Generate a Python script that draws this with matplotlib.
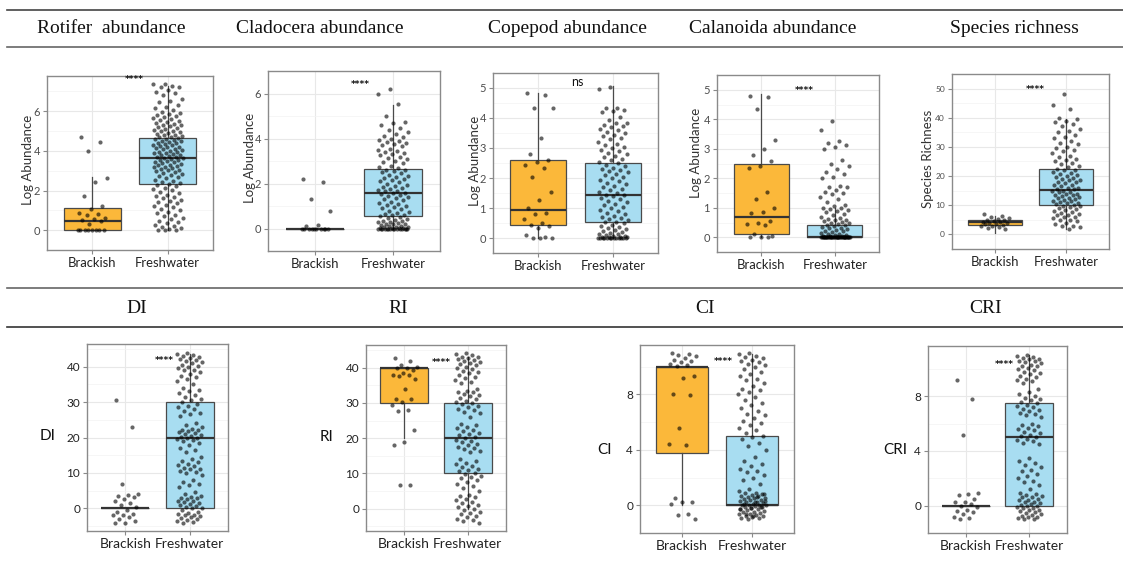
import numpy as np
import matplotlib.pyplot as plt
from matplotlib.lines import Line2D

W, H = 1123, 564

# column headers
top_titles = ["Rotifer  abundance", "Cladocera abundance", "Copepod abundance",
              "Calanoida abundance", "Species richness"]
bottom_titles = ["DI", "RI", "CI", "CRI"]
groups = ["Brackish", "Freshwater"]
y_labels = ["Log Abundance", "Log Abundance", "Log Abundance", "Log Abundance",
            "Species Richness", "DI", "RI", "CI", "CRI"]
sig_labels = ["****", "****", "ns", "****", "****", "****", "****", "****", "****"]

# box stats per panel: (q1, median, q3, whisker low, whisker high)
br_box = [(0, 0.48, 1.11, 0, 2.67), (0, 0, 0, 0, 0), (0.42, 0.93, 2.59, 0, 4.85),
          (0.11, 0.68, 2.48, 0, 4.87), (3.26, 4.1, 5.1, 0.5, 6.4), (0, 0, 0, 0, 0),
          (30, 40, 40, 20, 40), (3.77, 10, 10, 0, 10), (0, 0, 0, 0, 0)]
fw_box = [(2.33, 3.64, 4.66, 0, 7.28), (0.57, 1.6, 2.64, 0, 5.5), (0.53, 1.42, 2.49, 0, 5.07),
          (0, 0.02, 0.41, 0, 1.0), (10.2, 15.2, 22.4, 2, 39.6), (0, 20, 30, 0, 43.5),
          (10, 20, 30, 0, 43), (0, 0, 5, 0, 10.9), (0, 5, 7.5, 0, 11)]

rot_br = [4.72, 4.45, 4.02, 2.65, 2.45, 1.75, 1.22, 1.05, 0.85, 0.8, 0.78, 0.6, 0.55, 0.5,
          0.45, 0.3, 0, 0, 0, 0, 0, 0, 0, 0]
rot_fw = [7.4, 7.38, 7.3, 7.25, 7.2, 7.05, 6.95, 6.9, 6.83, 6.6, 6.5, 6.45, 6.3, 6.22, 6.15,
          6.05, 5.95, 5.9, 5.86, 5.8, 5.75, 5.7, 5.68, 5.62, 5.55, 5.5, 5.45, 5.42, 5.38, 5.33,
          5.3, 5.25, 5.2, 5.15, 5.1, 5.05, 5.0, 4.98, 4.93, 4.9, 4.85, 4.82, 4.78, 4.75, 4.72,
          4.7, 4.66, 4.62, 4.6, 4.55, 4.52, 4.48, 4.45, 4.4, 4.38, 4.33, 4.3, 4.28, 4.25, 4.2,
          4.18, 4.15, 4.1, 4.08, 4.05, 4.0, 3.97, 3.93, 3.9, 3.88, 3.85, 3.8, 3.77, 3.74, 3.7,
          3.68, 3.65, 3.62, 3.6, 3.55, 3.52, 3.48, 3.45, 3.42, 3.38, 3.35, 3.3, 3.28, 3.25,
          3.2, 3.18, 3.15, 3.1, 3.05, 3.02, 2.98, 2.95, 2.9, 2.85, 2.8, 2.75, 2.7, 2.62, 2.55,
          2.5, 2.45, 2.4, 2.35, 2.3, 2.22, 2.15, 2.1, 2.02, 1.95, 1.88, 1.8, 1.72, 1.65, 1.6,
          1.52, 1.45, 1.4, 1.35, 1.28, 1.2, 1.15, 1.05, 1.0, 0.92, 0.85, 0.78, 0.7, 0.62,
          0.55, 0.48, 0.4, 0.35, 0.28, 0.22, 0.15, 0.1, 0.05, 0, 0, 0]
cla_br = [2.22, 2.05, 1.32, 0.8, 0.15, 0.12, 0, 0, 0, 0, 0, 0, 0, 0, 0, 0]
cla_fw = [6.2, 6.0, 5.55, 5.0, 4.75, 4.7, 4.6, 4.45, 4.4, 4.3, 4.2, 4.1, 4.05, 4.0, 3.95,
          3.9, 3.85, 3.8, 3.75, 3.7, 3.65, 3.55, 3.5, 3.45, 3.4, 3.35, 3.3, 3.25, 3.2, 3.15,
          3.1, 3.0, 2.95, 2.9, 2.8, 2.75, 2.7, 2.62, 2.6, 2.55, 2.5, 2.45, 2.4, 2.35, 2.3,
          2.25, 2.2, 2.15, 2.1, 2.05, 2.0, 1.95, 1.9, 1.85, 1.8, 1.75, 1.7, 1.68, 1.65, 1.6,
          1.58, 1.55, 1.5, 1.45, 1.4, 1.35, 1.3, 1.25, 1.2, 1.15, 1.1, 1.05, 1.0, 0.95, 0.9,
          0.85, 0.8, 0.75, 0.7, 0.65, 0.6, 0.58, 0.55, 0.5, 0.45, 0.42, 0.4, 0.35, 0.32, 0.3,
          0.28, 0.25, 0.22, 0.2, 0.18, 0.15, 0.12, 0.1, 0.08, 0.06, 0.05, 0.04, 0.03, 0.02,
          0.01, 0, 0, 0, 0, 0, 0, 0, 0, 0, 0, 0, 0, 0, 0, 0]
cop_br = [4.83, 4.78, 4.35, 4.32, 3.32, 2.8, 2.6, 2.55, 2.45, 2.35, 2.05, 1.52, 1.28, 1.0,
          0.85, 0.8, 0.65, 0.5, 0.45, 0.4, 0.35, 0.1, 0.05, 0, 0, 0]
cop_fw = [5.05, 4.98, 4.35, 4.32, 4.28, 4.25, 4.2, 4.05, 3.95, 3.85, 3.82, 3.78, 3.75, 3.7,
          3.65, 3.6, 3.55, 3.5, 3.45, 3.4, 3.35, 3.3, 3.2, 3.15, 3.1, 3.05, 3.0, 2.95, 2.9,
          2.85, 2.8, 2.75, 2.7, 2.65, 2.6, 2.55, 2.5, 2.45, 2.4, 2.35, 2.3, 2.28, 2.25, 2.2,
          2.15, 2.1, 2.05, 2.0, 1.95, 1.9, 1.85, 1.8, 1.75, 1.7, 1.65, 1.6, 1.55, 1.5, 1.45,
          1.42, 1.4, 1.35, 1.3, 1.25, 1.2, 1.15, 1.1, 1.05, 1.0, 0.95, 0.9, 0.85, 0.8, 0.75,
          0.7, 0.68, 0.65, 0.6, 0.55, 0.52, 0.5, 0.45, 0.4, 0.38, 0.35, 0.3, 0.28, 0.25, 0.2,
          0.18, 0.15, 0.12, 0.1, 0.08, 0.06, 0.05, 0.04, 0.03, 0.02, 0.01, 0, 0, 0, 0, 0, 0,
          0, 0, 0, 0, 0, 0]
cal_br = [4.8, 4.75, 4.35, 3.3, 3.0, 2.8, 2.6, 2.4, 2.35, 1.52, 1.28, 1.0, 0.85, 0.82, 0.55,
          0.5, 0.45, 0.4, 0.1, 0.05, 0, 0, 0]
cal_fw = [3.93, 3.62, 3.25, 3.18, 3.12, 3.05, 2.98, 2.62, 2.5, 2.4, 2.3, 2.22, 2.13, 2.05,
          2.0, 1.75, 1.72, 1.7, 1.6, 1.55, 1.5, 1.45, 1.35, 1.3, 1.2, 1.1, 1.05, 1.0, 0.98,
          0.95, 0.92, 0.9, 0.85, 0.8, 0.75, 0.7, 0.65, 0.62, 0.6, 0.58, 0.55, 0.52, 0.5, 0.48,
          0.45, 0.42, 0.4, 0.38, 0.35, 0.32, 0.3, 0.28, 0.25, 0.22, 0.2, 0.18, 0.15, 0.12,
          0.1, 0.08, 0.06, 0.05, 0.04, 0.03, 0.02, 0.01, 0, 0, 0, 0, 0, 0, 0, 0, 0, 0, 0, 0,
          0, 0, 0, 0, 0, 0, 0, 0, 0, 0, 0, 0, 0, 0, 0, 0, 0, 0, 0, 0, 0, 0, 0, 0]
sp_br = [7.0, 6.3, 6.0, 5.6, 5.2, 5.0, 4.8, 4.6, 4.3, 4.1, 4.0, 3.8, 3.6, 3.4, 3.2, 3.0, 2.8,
         2.5, 2.2, 1.8]
sp_fw = [48, 44.5, 43, 40, 39.5, 39, 38.5, 38, 37, 36, 35.5, 35, 34, 33.5, 33, 32, 31.5, 31,
         30, 29.5, 29, 28.5, 28, 27, 26.5, 26, 25.5, 25, 24.5, 24, 23.5, 23, 22.5, 22, 22.2,
         21.5, 21, 20.8, 20.5, 20, 19.7, 19.5, 19, 18.8, 18.5, 18, 17.8, 17.5, 17, 16.8, 16.5,
         16, 15.8, 15.6, 15.5, 15, 14.8, 14.6, 14.5, 14, 13.8, 13.6, 13.5, 13, 12.8, 12.6,
         12.5, 12, 11.8, 11.6, 11.5, 11, 10.8, 10.6, 10.5, 10, 9.8, 9.6, 9.5, 9, 8.8, 8.5, 8,
         7.8, 7.5, 7, 6.8, 6.5, 6, 5.8, 5.5, 5, 4.8, 4.5, 4, 3.5, 3, 2.8, 2.5, 2]
di_br = [30.5, 23, 7, 4, 3.8, 3.5, 3.3, 2.5, 2.0, 1.5, 1.0, 0.5, -0.5, -1.0, -1.5, -1.8,
         -2.0, -2.5, -3.0, -3.5, -4.0, -4.2]
di_fw = [44, 43.5, 43.2, 43, 42.8, 42.5, 42.2, 42, 41.5, 41.2, 41, 40.5, 40.2, 40, 39.5,
         39.2, 39, 38.5, 38, 37.5, 37, 36.5, 36, 35, 34, 33.5, 33, 32.5, 32, 31.5, 31, 30.5,
         30, 29.5, 29, 28.5, 28, 27.5, 27, 26.5, 26, 24, 23.5, 23, 22.5, 22.2, 22, 21.8,
         21.5, 21.2, 21, 20.8, 20.5, 20.2, 20, 19.8, 19.5, 19.2, 19, 18.5, 18, 17, 16.5, 16,
         14.5, 14, 13.5, 13, 12.5, 12.2, 12, 11.5, 11.2, 11, 10.5, 10.2, 10, 9.5, 8, 7.5, 7,
         6.5, 6, 4.5, 4, 3.5, 3.2, 3, 2.8, 2.5, 2.2, 2, 1.8, 1.5, 1.2, 1, 0.8, 0.5, 0.2, 0,
         -0.5, -1, -1.2, -1.5, -1.8, -2, -2.2, -2.5, -2.8, -3, -3.2, -3.5, -3.8, -4]
ri_br = [42.8, 41.8, 40.6, 40.2, 40, 39.8, 39.2, 38.5, 38, 37.8, 37.5, 36.8, 34, 31.2, 31,
         30.2, 29.5, 28, 27.8, 22.3, 19, 18, 6.7, 6.6]
ri_fw = [44, 43.8, 43.5, 43.1, 43, 42.7, 42.5, 42.1, 42, 41.6, 41.3, 41, 40.6, 40.3, 40,
         39.6, 39.1, 38.8, 38.4, 38, 37.4, 37, 36.5, 36, 35.5, 34, 33.5, 33.2, 33, 32.6, 32.3,
         32, 31.5, 31, 30.6, 30.2, 30, 29.6, 29.1, 28.8, 28.4, 28, 27.5, 27, 26, 24, 23.6,
         23.2, 22.8, 22.4, 22, 21.6, 21.2, 20.8, 20.4, 20, 19.6, 19.1, 18.8, 18.4, 18, 17.6,
         17.2, 16.8, 16.4, 16, 14, 13.5, 13, 12.6, 12.2, 11.8, 11.4, 11, 10.6, 10.2, 9.8,
         9.4, 9, 8.6, 8.2, 7.5, 7, 6.5, 6, 5, 4, 3.5, 3.2, 2.8, 2.4, 2, 1.6, 1.2, 0.8, 0.4,
         0, -0.4, -0.8, -1.2, -1.6, -2, -2.4, -2.8, -3.2, -3.6, -4]
ci_br = [10.95, 10.9, 10.85, 10.75, 10.65, 10.5, 10.4, 10.3, 10.2, 10.1, 10.05, 9.3, 9.2,
         8.05, 7.95, 5.55, 4.4, 4.35, 0.5, 0.25, 0.2, 0.1, -0.6, -0.7, -1.0]
ci_fw = [11, 10.9, 10.8, 10.7, 10.6, 10.5, 10.4, 10.3, 10.2, 10.1, 10, 9.8, 9.6, 9.5, 9.3,
         9.1, 9, 8.8, 8.6, 8.4, 8.3, 8.2, 8, 7.8, 7.6, 7.4, 7.2, 7, 6.8, 6.6, 6.5, 6.3, 6.1,
         5.9, 5.8, 5.6, 5.4, 5.2, 5, 4.9, 4.8, 4.5, 4.3, 4, 3.5, 3.2, 3, 2.8, 2.6, 2.5, 2.4,
         2.2, 2, 1.8, 1.5, 1.2, 1, 0.9, 0.85, 0.8, 0.75, 0.7, 0.65, 0.6, 0.55, 0.5, 0.45,
         0.4, 0.35, 0.3, 0.25, 0.2, 0.15, 0.1, 0.05, 0, 0, 0, -0.05, -0.1, -0.15, -0.2,
         -0.25, -0.3, -0.35, -0.4, -0.45, -0.5, -0.55, -0.6, -0.65, -0.7, -0.75, -0.8, -0.85,
         -0.9, -0.95, -1.0, 0.3, 0.2, 0.1, -0.1, -0.2, -0.3, 0.6, -0.6, 0.8, -0.8]
cri_br = [9.2, 7.8, 5.2, 0.9, 0.85, 0.8, 0.5, 0.3, 0.25, 0.1, 0.0, -0.1, -0.3, -0.4, -0.5,
          -0.6, -0.8, -0.9, -1.0]
cri_fw = [11, 10.95, 10.9, 10.8, 10.75, 10.7, 10.6, 10.55, 10.5, 10.4, 10.3, 10.25, 10.2,
          10.1, 10.0, 9.9, 9.8, 9.7, 9.6, 9.5, 9.4, 9.3, 9.2, 9.1, 9.0, 8.5, 8.3, 8.2, 8.0,
          7.9, 7.8, 7.7, 7.6, 7.5, 7.4, 7.3, 7.2, 7.1, 7.0, 6.9, 6.8, 6.7, 6.6, 6.5, 6.0, 5.9,
          5.8, 5.7, 5.6, 5.5, 5.4, 5.3, 5.2, 5.1, 5.0, 4.9, 4.8, 4.7, 4.6, 4.5, 3.5, 3.3,
          3.1, 3.0, 2.8, 2.6, 2.5, 2.3, 2.2, 2.0, 1.8, 1.7, 1.5, 1.2, 0.9, 0.85, 0.8, 0.7,
          0.65, 0.6, 0.5, 0.45, 0.4, 0.3, 0.25, 0.2, 0.1, 0.05, 0.0, 0.0, -0.1, -0.15, -0.2,
          -0.3, -0.35, -0.4, -0.5, -0.55, -0.6, -0.7, -0.75, -0.8, -0.85, -0.9, -0.95, -1.0]

brackish = [rot_br, cla_br, cop_br, cal_br, sp_br, di_br, ri_br, ci_br, cri_br]
fresh = [rot_fw, cla_fw, cop_fw, cal_fw, sp_fw, di_fw, ri_fw, ci_fw, cri_fw]

y_ticks = [[0, 2, 4, 6], [0, 2, 4, 6], [0, 1, 2, 3, 4, 5], [0, 1, 2, 3, 4, 5],
           [0, 10, 20, 30, 40, 50], [0, 10, 20, 30, 40], [0, 10, 20, 30, 40],
           [0, 4, 8], [0, 4, 8]]

# layout in pixels: left, top, right, bottom
boxes_px = [(47, 76, 213, 250), (268, 71, 440, 251), (493, 73, 658, 253), (717, 75, 879, 252),
            (952, 74, 1109, 249), (87, 344, 228, 531), (366, 345, 506, 531),
            (640, 345, 794, 533), (928, 346, 1067, 533)]
ylims = [(-0.375, 7.78), (-0.31, 6.51), (-0.23, 5.34), (-0.24, 5.12), (-2.3, 51.0),
         (-6.4, 46.4), (-6.3, 46.4), (-1.58, 11.56), (-1.54, 11.68)]
sig_pos = [(1.56, 7.62), (1.58, 6.38), (1.53, 5.2), (1.58, 4.98), (1.57, 49.6),
           (1.6, 41.6), (1.58, 41.5), (1.59, 10.35), (1.6, 10.35)]
ylab_px = [(28, 160), (250, 158), (475, 161), (696, 153), (928, 159),
           (48, 436), (326, 437), (604, 450), (895, 450)]
top_title_x = [111, 320, 567, 773, 1014]
bottom_title_x = [137, 398, 705, 986]

BR_COL = "#FBB83A"
FW_COL = "#A8DDF1"
SANS = ["Lato", "DejaVu Sans"]


def jit(n, off):
    # deterministic spread across +-0.2 (stand-in for geom_jitter)
    return ((np.arange(n) * 0.6180339887 + off) % 1.0 - 0.5) * 0.4


fig = plt.figure(figsize=(W / 100, H / 100), dpi=100)

for i in range(9):
    l, t, r, b = boxes_px[i]
    ax = fig.add_axes([l / W, 1 - b / H, (r - l) / W, (b - t) / H])
    row2 = i >= 5
    stats = []
    for st in (br_box[i], fw_box[i]):
        stats.append(dict(q1=st[0], med=st[1], q3=st[2], whislo=st[3], whishi=st[4], fliers=[]))
    bp = ax.bxp(stats, positions=[1, 2], widths=0.75, patch_artist=True,
                showfliers=False, showcaps=False,
                boxprops=dict(edgecolor="#4a4a4a", linewidth=0.9),
                whiskerprops=dict(color="#4a4a4a", linewidth=0.9),
                medianprops=dict(color="#333333", linewidth=1.6))
    for patch, c in zip(bp["boxes"], [BR_COL, FW_COL]):
        patch.set_facecolor(c)
    for pos, vals, off in ((1, brackish[i], 0.13), (2, fresh[i], 0.41)):
        ax.scatter(pos + jit(len(vals), off), vals, s=9, c="black", alpha=0.6,
                   linewidths=0, zorder=3)

    ax.set_xlim(0.4, 2.6)
    ax.set_ylim(*ylims[i])
    yt = y_ticks[i]
    ax.set_yticks(yt)
    step = yt[1] - yt[0]
    ax.set_yticks([v + step / 2 for v in [yt[0] - step] + yt], minor=True)
    ax.set_xticks([1, 2])
    ax.set_xticklabels(groups)
    ax.set_axisbelow(True)
    ax.grid(which="major", color="#e8e8e8", linewidth=0.8)
    ax.grid(which="minor", axis="y", color="#f3f3f3", linewidth=0.5)
    for sp in ax.spines.values():
        sp.set_color("#8a8a8a")
        sp.set_linewidth(1.0)
    ytick_fs = 6 if i == 4 else (8.5 if row2 else 8)
    lab_col = "#222222" if row2 else "#4d4d4d"
    ax.tick_params(axis="y", which="major", length=3, width=0.8, color="#8a8a8a", pad=2,
                   labelsize=ytick_fs, labelcolor=lab_col)
    ax.tick_params(axis="x", which="major", length=3, width=0.8, color="#8a8a8a", pad=2,
                   labelsize=10 if row2 else 9.4, labelcolor="#222222")
    ax.tick_params(which="minor", length=0)
    for lab in ax.get_xticklabels() + ax.get_yticklabels():
        lab.set_family(SANS)

    if sig_labels[i] == "ns":
        ax.text(sig_pos[i][0], sig_pos[i][1], "ns", ha="center", va="center",
                fontsize=9, color="#111111", family=SANS)
    else:
        ax.text(sig_pos[i][0], sig_pos[i][1], sig_labels[i], ha="center", va="center",
                fontsize=6.5, color="#111111", family="DejaVu Sans", weight="bold")

    lx, ly = ylab_px[i]
    fig.text(lx / W, 1 - ly / H, y_labels[i], ha="center", va="center",
             rotation=0 if row2 else 90, fontsize=11 if row2 else 9.5,
             color="#111111" if row2 else "#333333", family=SANS)

# table rules and headers
for ypx, col in ((10, "#444444"), (47.3, "#666666"), (288.5, "#666666"), (327, "#333333")):
    fig.add_artist(Line2D([7 / W, 1.0], [1 - ypx / H, 1 - ypx / H], color=col,
                          linewidth=1.2, transform=fig.transFigure))

for x, t in zip(top_title_x, top_titles):
    fig.text(x / W, 1 - 33 / H, t, ha="center", va="baseline", fontsize=14,
             family="Liberation Serif", color="#111111")
for x, t in zip(bottom_title_x, bottom_titles):
    fig.text(x / W, 1 - 313 / H, t, ha="center", va="baseline", fontsize=14,
             family="Liberation Serif", color="#111111")

fig.savefig("out.png", dpi=100)
